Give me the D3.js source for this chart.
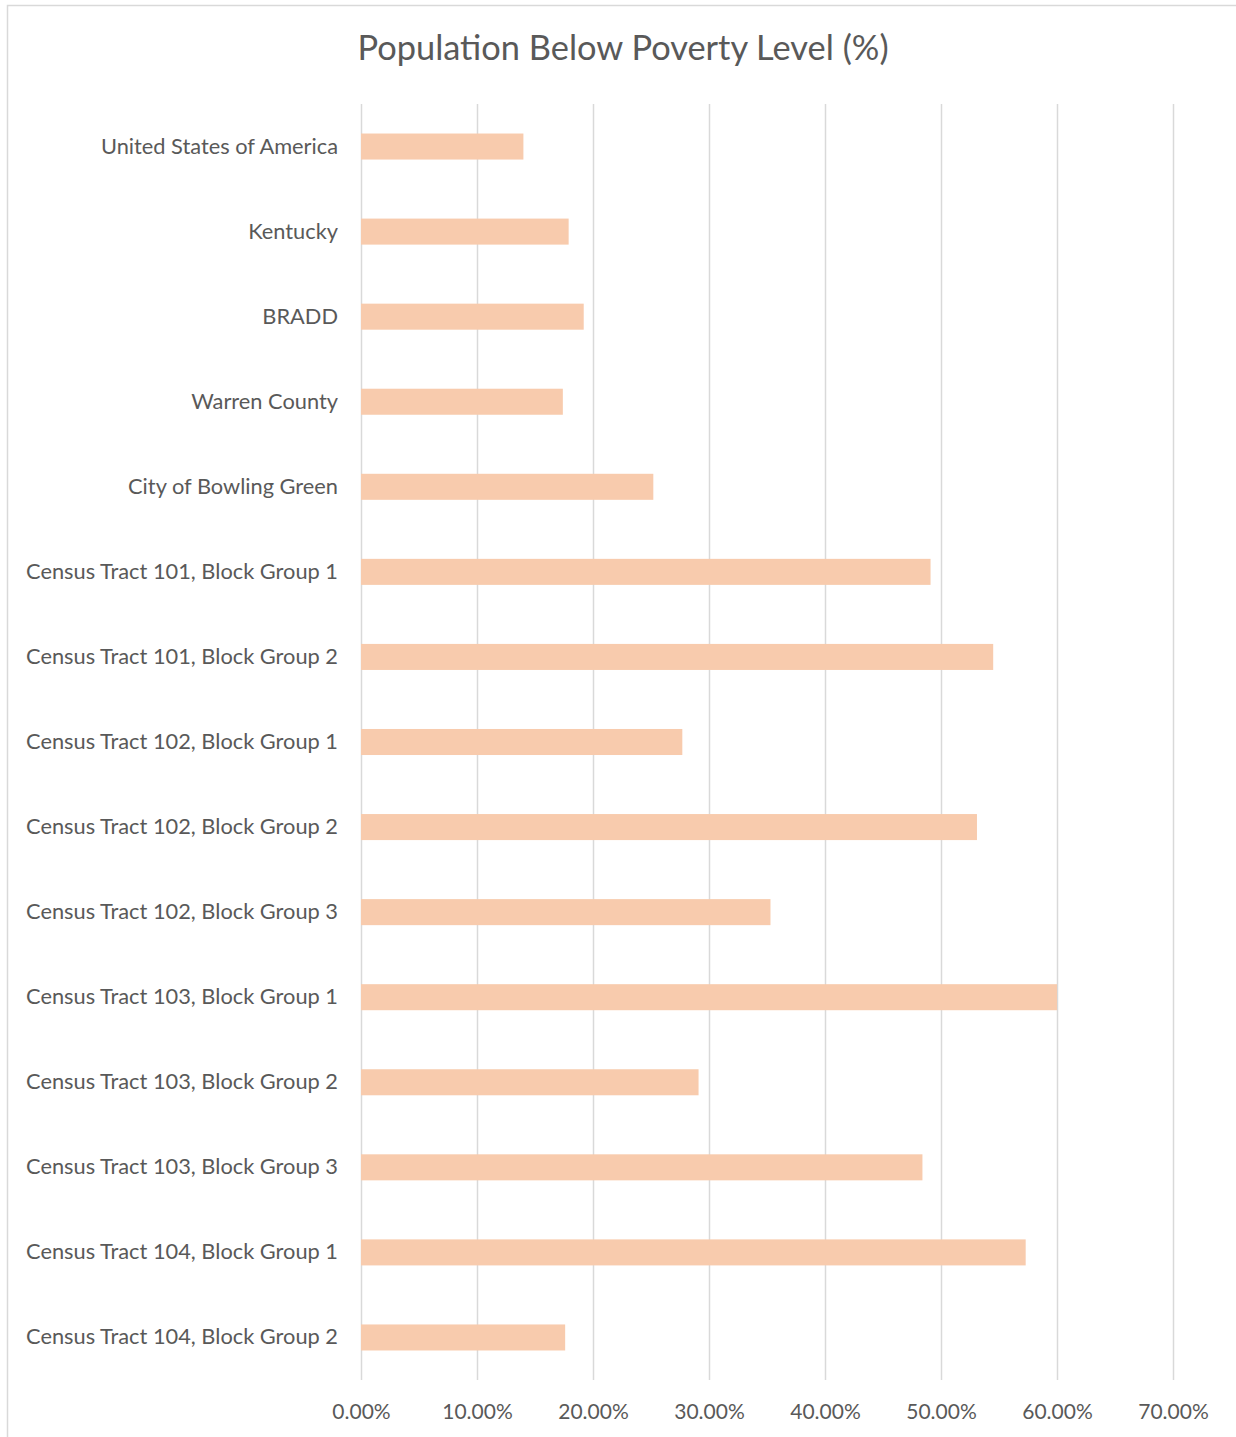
<!DOCTYPE html>
<html>
<head>
<meta charset="utf-8">
<script src="https://cdn.jsdelivr.net/npm/d3@7"></script>
<style>
  html, body { margin: 0; padding: 0; background: #fff; }
  svg { display: block; }
</style>
</head>
<body>
<div id="chart"></div>
<script>
// Population below poverty level, horizontal bars
const categories = [
  'United States of America',
  'Kentucky',
  'BRADD',
  'Warren County',
  'City of Bowling Green',
  'Census Tract 101, Block Group 1',
  'Census Tract 101, Block Group 2',
  'Census Tract 102, Block Group 1',
  'Census Tract 102, Block Group 2',
  'Census Tract 102, Block Group 3',
  'Census Tract 103, Block Group 1',
  'Census Tract 103, Block Group 2',
  'Census Tract 103, Block Group 3',
  'Census Tract 104, Block Group 1',
  'Census Tract 104, Block Group 2'
];
const values = [14.0, 17.9, 19.2, 17.4, 25.2, 49.1, 54.5, 27.7, 53.1, 35.3, 60.0, 29.1, 48.4, 57.3, 17.6];
const xTicks = [0, 10, 20, 30, 40, 50, 60, 70];
const title = 'Population Below Poverty Level (%)';

const width = 1236, height = 1437;
const margin = { top: 104, right: 63, bottom: 57, left: 361 };
const font = 'Lato, "Open Sans", sans-serif';

const svg = d3.select('#chart')
  .append('svg')
  .attr('width', width)
  .attr('height', height);

// chart frame (only top and left edges are visible)
svg.append('path')
  .attr('d', `M7.5,${height}V5.5H${width}`)
  .attr('fill', 'none')
  .attr('stroke', '#d9d9d9')
  .attr('stroke-width', 1.5);

const x = d3.scaleLinear()
  .domain([0, 70])
  .range([margin.left, width - margin.right]);

const y = d3.scaleBand()
  .domain(categories)
  .range([margin.top, height - margin.bottom])
  .paddingInner(0.694)
  .paddingOuter(0.347);

// Gridlines
const xAxis = svg.append('g')
  .attr('transform', `translate(0,${height - margin.bottom})`)
  .call(d3.axisBottom(x)
    .tickValues(xTicks)
    .tickSize(height - margin.bottom - margin.top)
    .tickFormat(d => d.toFixed(2) + '%'));
xAxis.select('.domain').remove();
xAxis.selectAll('.tick line')
  .attr('y1', 0)
  .attr('y2', -(height - margin.bottom - margin.top))
  .attr('stroke', '#d9d9d9')
  .attr('stroke-width', 1.5);
xAxis.selectAll('.tick text')
  .attr('y', 32)
  .attr('dy', '0.35em')
  .attr('fill', '#595959')
  .attr('font-size', '21px')
  .attr('font-family', font);

// Bars
svg.append('g')
  .selectAll('rect')
  .data(values)
  .join('rect')
  .attr('x', x(0))
  .attr('y', (d, i) => y(categories[i]))
  .attr('width', d => x(d) - x(0))
  .attr('height', y.bandwidth())
  .attr('fill', '#f8cbad');

// Category labels
const yAxis = svg.append('g')
  .attr('transform', `translate(${margin.left},0)`)
  .call(d3.axisLeft(y).tickSize(0).tickPadding(23));
yAxis.select('.domain').remove();
yAxis.selectAll('.tick text')
  .attr('fill', '#595959')
  .attr('font-size', '21.8px')
  .attr('font-family', font);

// Title
svg.append('text')
  .attr('x', 623)
  .attr('y', 48)
  .attr('dy', '0.35em')
  .attr('text-anchor', 'middle')
  .attr('fill', '#595959')
  .attr('font-size', '34.4px')
  .attr('font-family', font)
  .text(title);
</script>
</body>
</html>
